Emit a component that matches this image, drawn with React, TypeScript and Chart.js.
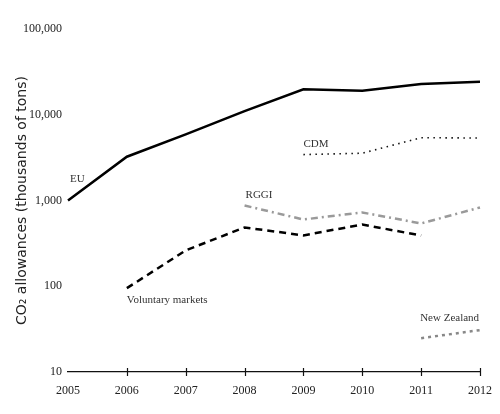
import React, { useEffect, useRef } from "react";
import { Chart, registerables } from "chart.js";

Chart.register(...registerables);

const years = ["2005", "2006", "2007", "2008", "2009", "2010", "2011", "2012"];
const yTicks = [10, 100, 1000, 10000, 100000];

const euValues = [1000, 3240, 5900, 11000, 19800, 19000, 22900, 24200];
const cdmValues = [null, null, null, null, 3430, 3560, 5400, 5350];
const rggiValues = [null, null, null, 875, 600, 725, 540, 830];
const voluntaryValues = [null, 95, 262, 485, 392, 525, 390, null];
const newZealandValues = [null, null, null, null, null, null, 24.8, 30.8];

const seriesLabels = [
  { text: "EU", year: "2005", value: 1800, dx: 2 },
  { text: "CDM", year: "2009", value: 4600, dx: 0 },
  { text: "RGGI", year: "2008", value: 1170, dx: 1 },
  { text: "Voluntary markets", year: "2006", value: 69, dx: 0 },
  { text: "New Zealand", year: "2011", value: 42.5, dx: -1 },
];

const serif = "'Liberation Serif', 'Times New Roman', serif";

const decorPlugin = {
  id: "decor",
  afterDraw(chart: any) {
    const { ctx, scales } = chart;
    const x = scales.x;
    const y = scales.y;
    const axisY = y.getPixelForValue(10);
    ctx.save();
    ctx.strokeStyle = "#111";
    ctx.lineWidth = 1.2;
    for (let i = 1; i < years.length; i++) {
      const px = Math.round(x.getPixelForValue(i)) + 0.5;
      ctx.beginPath();
      ctx.moveTo(px, axisY - 4);
      ctx.lineTo(px, axisY + 4);
      ctx.stroke();
    }
    ctx.fillStyle = "#333";
    ctx.font = `11px ${serif}`;
    ctx.textAlign = "left";
    ctx.textBaseline = "middle";
    for (const l of seriesLabels) {
      const px = x.getPixelForValue(years.indexOf(l.year)) + l.dx;
      const py = y.getPixelForValue(l.value);
      ctx.fillText(l.text, px, py);
    }
    ctx.restore();
  },
};

export default function App() {
  const ref = useRef<HTMLCanvasElement | null>(null);
  useEffect(() => {
    if (!ref.current) return;
    const chart = new Chart(ref.current, {
      type: "line",
      data: {
        labels: years,
        datasets: [
          {
            label: "EU",
            data: euValues,
            borderColor: "#000",
            borderWidth: 2.5,
          },
          {
            label: "CDM",
            data: cdmValues,
            borderColor: "#111",
            borderWidth: 1.6,
            borderDash: [1.5, 4.5],
          },
          {
            label: "RGGI",
            data: rggiValues,
            borderColor: "#9a9a9a",
            borderWidth: 2.5,
            borderDash: [7, 4, 2, 4],
          },
          {
            label: "Voluntary markets",
            data: voluntaryValues,
            borderColor: "#000",
            borderWidth: 2.5,
            borderDash: [7, 5],
          },
          {
            label: "New Zealand",
            data: newZealandValues,
            borderColor: "#888",
            borderWidth: 2.5,
            borderDash: [3, 4],
          },
        ] as any,
      },
      options: {
        animation: false,
        responsive: false,
        maintainAspectRatio: false,
        layout: { padding: { top: 29, right: 20, bottom: 0, left: 0 } },
        elements: {
          point: { radius: 0 },
          line: { tension: 0, fill: false },
        },
        plugins: {
          legend: { display: false },
          tooltip: { enabled: false },
        },
        scales: {
          x: {
            type: "category",
            offset: false,
            grid: { display: false, drawTicks: false },
            border: { display: true, color: "#111", width: 1.2 },
            ticks: {
              color: "#222",
              font: { family: serif, size: 12 },
              padding: 12,
              maxRotation: 0,
              autoSkip: false,
            },
            afterFit(scale: any) {
              scale.height = 42;
              scale.paddingLeft = 0;
              scale.paddingRight = 0;
            },
          },
          y: {
            type: "logarithmic",
            min: 10,
            max: 100000,
            grid: { display: false, drawTicks: false },
            border: { display: false },
            afterBuildTicks(scale: any) {
              scale.ticks = yTicks.map((v) => ({ value: v }));
            },
            ticks: {
              color: "#222",
              font: { family: serif, size: 12 },
              padding: 6,
              callback: (v: any) => Number(v).toLocaleString("en-US"),
            },
            title: {
              display: true,
              text: "CO₂ allowances (thousands of tons)",
              color: "#222",
              font: { family: "'DejaVu Sans', sans-serif", size: 14 },
              padding: { top: 14, bottom: 0 },
            },
            afterFit(scale: any) {
              scale.width = 68;
            },
          },
        },
      } as any,
      plugins: [decorPlugin],
    });
    return () => chart.destroy();
  }, []);
  return (
    <div style={{ position: "absolute", left: 0, top: 0, width: 500, height: 414, background: "#fff" }}>
      <canvas ref={ref} width={500} height={414} style={{ width: 500, height: 414 }} />
    </div>
  );
}
